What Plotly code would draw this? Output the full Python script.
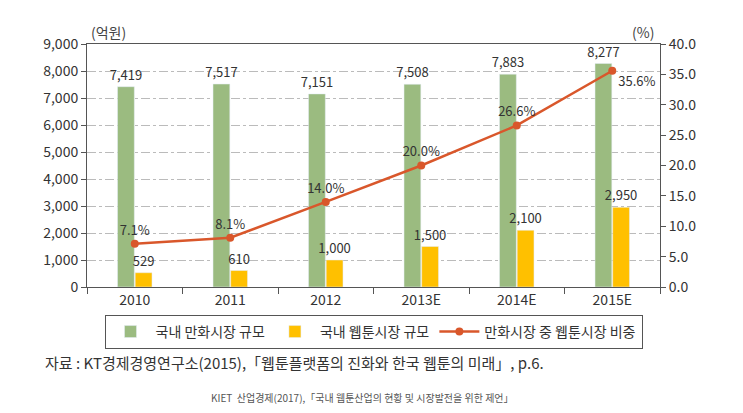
import plotly.graph_objects as go

categories = ["2010", "2011", "2012", "2013E", "2014E", "2015E"]
manhwa = [7419, 7517, 7151, 7508, 7883, 8277]
webtoon = [529, 610, 1000, 1500, 2100, 2950]
share = [7.1, 8.1, 14.0, 20.0, 26.6, 35.6]
share_pos = ["top center"] * 5 + ["bottom right"]

FONT = "Noto Sans CJK KR"
TXT = "#333333"

fig = go.Figure()
fig.add_trace(go.Bar(
    x=categories, y=manhwa, name="국내 만화시장 규모",
    marker_color="#9BBB80", text=[f"{v:,}" for v in manhwa],
    textposition="outside", textfont=dict(size=13, color=TXT),
    constraintext="none", cliponaxis=False,
))
fig.add_trace(go.Bar(
    x=categories, y=webtoon, name="국내 웹툰시장 규모",
    marker_color="#FFC000", text=[f"{v:,}" for v in webtoon],
    textposition="outside", textfont=dict(size=13, color=TXT),
    constraintext="none", cliponaxis=False,
))
fig.add_trace(go.Scatter(
    x=categories, y=share, name="만화시장 중 웹툰시장 비중", yaxis="y2",
    mode="lines+markers+text", line=dict(color="#D9572B", width=2.5),
    marker=dict(size=8, color="#D9572B"),
    text=[f"{v:.1f}%" for v in share], textposition=share_pos,
    textfont=dict(size=13, color=TXT), cliponaxis=False,
))

fig.update_layout(
    width=743, height=413,
    margin=dict(l=87, r=83, t=44, b=126),
    paper_bgcolor="white", plot_bgcolor="white",
    font=dict(family=FONT, color=TXT, size=14),
    barmode="group", bargap=0.63, bargroupgap=0.05,
    showlegend=True,
    legend=dict(orientation="h", x=0.5, xanchor="center", y=-0.115, yanchor="top",
                bordercolor="#555555", borderwidth=1, font=dict(size=14),
                itemwidth=40, tracegroupgap=0),
    xaxis=dict(type="category", showline=True, linecolor="#555555", linewidth=1,
               mirror=True, ticks="outside", tickson="boundaries", ticklen=6,
               tickcolor="#555555", tickfont=dict(size=14), showgrid=False),
    yaxis=dict(range=[0, 9000], dtick=1000, tickformat=",", showline=True,
               linecolor="#555555", linewidth=1, ticks="outside", ticklen=5,
               tickcolor="#555555", showgrid=True, gridcolor="#BBBBBB",
               griddash="dashdot", zeroline=False, tickfont=dict(size=14)),
    yaxis2=dict(range=[0, 40], dtick=5, tickformat=".1f", overlaying="y",
                side="right", showline=True, linecolor="#555555", linewidth=1,
                ticks="outside", ticklen=5, tickcolor="#555555", showgrid=False,
                zeroline=False, tickfont=dict(size=14)),
    annotations=[
        dict(text="(억원)", xref="paper", yref="paper", x=0.0, y=1.0, xanchor="left",
             yanchor="bottom", showarrow=False, font=dict(size=14, color="#444444"), xshift=2),
        dict(text="(%)", xref="paper", yref="paper", x=1.0, y=1.0, xanchor="right",
             yanchor="bottom", showarrow=False, font=dict(size=14, color="#444444"), xshift=-4),
        dict(text="자료 : KT경제경영연구소(2015),「웹툰플랫폼의 진화와 한국 웹툰의 미래」, p.6.",
             xref="paper", yref="paper", x=-0.077, y=-0.31, xanchor="left", yanchor="middle",
             showarrow=False, font=dict(size=15, color="#333333")),
        dict(text="KIET  산업경제(2017),「국내 웹툰산업의 현황 및 시장발전을 위한 제언」",
             xref="paper", yref="paper", x=0.48, y=-0.455, xanchor="center", yanchor="middle",
             showarrow=False, font=dict(size=10, color="#555555")),
    ],
)

fig.write_html("out.html")
